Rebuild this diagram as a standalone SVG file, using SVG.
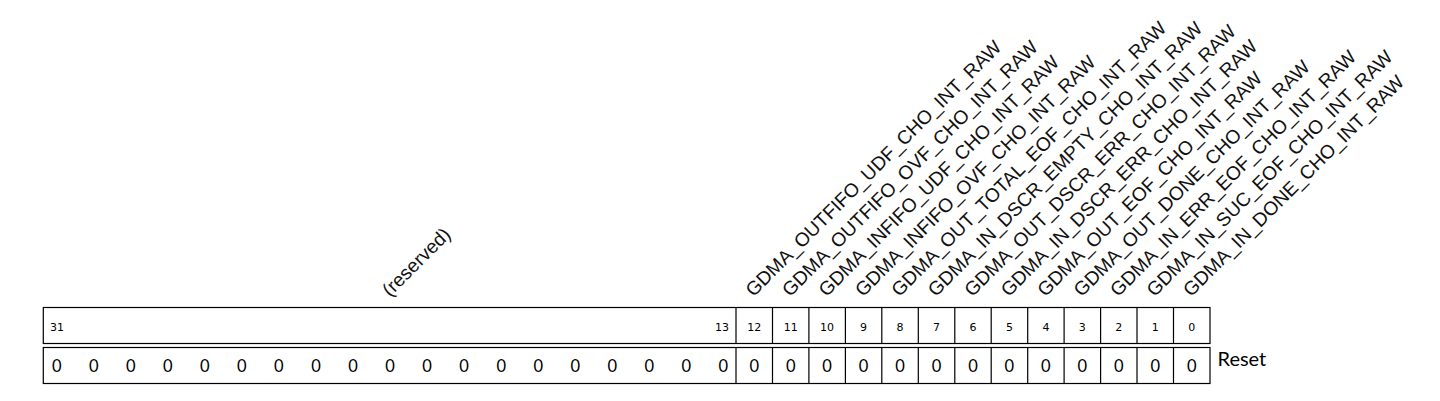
<svg xmlns="http://www.w3.org/2000/svg" width="1440" height="401" viewBox="0 0 1440 401">
<style>
.bg{fill:#fff}
.box{fill:#fff;stroke:#000;stroke-width:1.2}
.div{stroke:#000;stroke-width:1.2}
.lbl{font-family:"Liberation Sans",Arial,sans-serif;font-size:19.2px;fill:#111}
.num{font-family:"DejaVu Sans",sans-serif;font-size:11px;fill:#000;text-anchor:middle}
.val{font-family:Lato,"Noto Sans",sans-serif;font-size:16.5px;fill:#000;text-anchor:middle}
.rst{font-family:Lato,"Noto Sans",sans-serif;font-size:20px;fill:#000}
</style>
<rect class="bg" x="0" y="0" width="1440" height="401"/>
<g id="labels">
<text class="lbl" transform="translate(390,297.5) rotate(-45)">(reserved)</text>
<text class="lbl" transform="translate(753.5,297.5) rotate(-45)">GDMA_OUTFIFO_UDF_CHO_INT_RAW</text>
<text class="lbl" transform="translate(790,297.5) rotate(-45)">GDMA_OUTFIFO_OVF_CHO_INT_RAW</text>
<text class="lbl" transform="translate(826.4,297.5) rotate(-45)">GDMA_INFIFO_UDF_CHO_INT_RAW</text>
<text class="lbl" transform="translate(862.9,297.5) rotate(-45)">GDMA_INFIFO_OVF_CHO_INT_RAW</text>
<text class="lbl" transform="translate(899.3,297.5) rotate(-45)">GDMA_OUT_TOTAL_EOF_CHO_INT_RAW</text>
<text class="lbl" transform="translate(935.8,297.5) rotate(-45)">GDMA_IN_DSCR_EMPTY_CHO_INT_RAW</text>
<text class="lbl" transform="translate(972.3,297.5) rotate(-45)">GDMA_OUT_DSCR_ERR_CHO_INT_RAW</text>
<text class="lbl" transform="translate(1008.7,297.5) rotate(-45)">GDMA_IN_DSCR_ERR_CHO_INT_RAW</text>
<text class="lbl" transform="translate(1045.2,297.5) rotate(-45)">GDMA_OUT_EOF_CHO_INT_RAW</text>
<text class="lbl" transform="translate(1081.6,297.5) rotate(-45)">GDMA_OUT_DONE_CHO_INT_RAW</text>
<text class="lbl" transform="translate(1118.1,297.5) rotate(-45)">GDMA_IN_ERR_EOF_CHO_INT_RAW</text>
<text class="lbl" transform="translate(1154.5,297.5) rotate(-45)">GDMA_IN_SUC_EOF_CHO_INT_RAW</text>
<text class="lbl" transform="translate(1191,297.5) rotate(-45)">GDMA_IN_DONE_CHO_INT_RAW</text>
</g>
<g id="bits">
<rect class="box" x="43.3" y="307.5" width="1166.7" height="36"/>
<path class="div" d="M736,307.5V343.5M772.5,307.5V343.5M808.9,307.5V343.5M845.4,307.5V343.5M881.8,307.5V343.5M918.3,307.5V343.5M954.8,307.5V343.5M991.2,307.5V343.5M1027.7,307.5V343.5M1064.1,307.5V343.5M1100.6,307.5V343.5M1137,307.5V343.5M1173.5,307.5V343.5"/>
<text class="num" x="50" y="330.7" style="text-anchor:start">31</text>
<text class="num" x="729" y="330.7" style="text-anchor:end">13</text>
<text class="num" x="754.2" y="330.7">12</text>
<text class="num" x="790.7" y="330.7">11</text>
<text class="num" x="827.1" y="330.7">10</text>
<text class="num" x="863.6" y="330.7">9</text>
<text class="num" x="900.0" y="330.7">8</text>
<text class="num" x="936.5" y="330.7">7</text>
<text class="num" x="973.0" y="330.7">6</text>
<text class="num" x="1009.4" y="330.7">5</text>
<text class="num" x="1045.9" y="330.7">4</text>
<text class="num" x="1082.3" y="330.7">3</text>
<text class="num" x="1118.8" y="330.7">2</text>
<text class="num" x="1155.2" y="330.7">1</text>
<text class="num" x="1191.7" y="330.7">0</text>
</g>
<g id="reset">
<rect class="box" x="43.3" y="347.5" width="1166.7" height="36"/>
<path class="div" d="M736,347.5V383.5M772.5,347.5V383.5M808.9,347.5V383.5M845.4,347.5V383.5M881.8,347.5V383.5M918.3,347.5V383.5M954.8,347.5V383.5M991.2,347.5V383.5M1027.7,347.5V383.5M1064.1,347.5V383.5M1100.6,347.5V383.5M1137,347.5V383.5M1173.5,347.5V383.5"/>
<text class="val" y="371.7"><tspan x="56.7">0</tspan><tspan x="93.7">0</tspan><tspan x="130.8">0</tspan><tspan x="167.8">0</tspan><tspan x="204.9">0</tspan><tspan x="241.9">0</tspan><tspan x="278.9">0</tspan><tspan x="316.0">0</tspan><tspan x="353.0">0</tspan><tspan x="390.1">0</tspan><tspan x="427.1">0</tspan><tspan x="464.1">0</tspan><tspan x="501.2">0</tspan><tspan x="538.2">0</tspan><tspan x="575.3">0</tspan><tspan x="612.3">0</tspan><tspan x="649.3">0</tspan><tspan x="686.4">0</tspan><tspan x="723.4">0</tspan></text>
<text class="val" y="371.7"><tspan x="754.2">0</tspan><tspan x="790.7">0</tspan><tspan x="827.1">0</tspan><tspan x="863.6">0</tspan><tspan x="900.0">0</tspan><tspan x="936.5">0</tspan><tspan x="973.0">0</tspan><tspan x="1009.4">0</tspan><tspan x="1045.9">0</tspan><tspan x="1082.3">0</tspan><tspan x="1118.8">0</tspan><tspan x="1155.2">0</tspan><tspan x="1191.7">0</tspan></text>
<text class="rst" x="1217.5" y="365.7">Reset</text>
</g>
</svg>
